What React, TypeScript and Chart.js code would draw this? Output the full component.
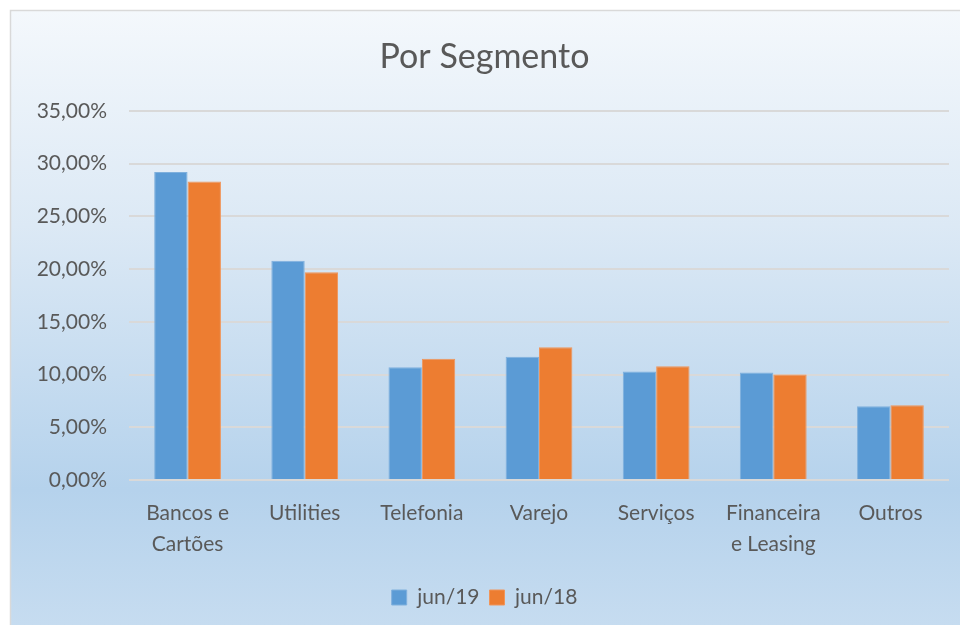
import React, { useEffect, useRef } from "react";
import { Chart, registerables } from "chart.js";

Chart.register(...registerables);

const categories: (string | string[])[] = [
  ["Bancos e", "Cartões"],
  "Utilities",
  "Telefonia",
  "Varejo",
  "Serviços",
  ["Financeira", "e Leasing"],
  "Outros",
];
const jun19 = [29.2, 20.8, 10.7, 11.7, 10.3, 10.2, 7.0];
const jun18 = [28.3, 19.7, 11.5, 12.6, 10.8, 10.0, 7.1];
const seriesLabels = ["jun/19", "jun/18"];
const titleText = "Por Segmento";

const FONT = "Lato, 'Noto Sans', sans-serif";
const TEXT = "#595959";

const bgPlugin = {
  id: "bgFrame",
  beforeDraw(chart: any) {
    const { ctx, width, height } = chart;
    ctx.save();
    const g = ctx.createLinearGradient(0, 10, 0, height);
    g.addColorStop(0, "#f4f8fc");
    g.addColorStop(0.35, "#dce9f5");
    g.addColorStop(0.78, "#b5d2ec");
    g.addColorStop(1, "#c6dcf0");
    ctx.fillStyle = "#ffffff";
    ctx.fillRect(0, 0, width, height);
    ctx.fillStyle = g;
    ctx.fillRect(10, 10, width - 10, height - 10);
    ctx.strokeStyle = "#d9d9d9";
    ctx.lineWidth = 1.5;
    ctx.beginPath();
    ctx.moveTo(10.5, height);
    ctx.lineTo(10.5, 10.5);
    ctx.lineTo(width, 10.5);
    ctx.stroke();
    ctx.restore();
  },
};

export default function App() {
  const ref = useRef<HTMLCanvasElement>(null);
  useEffect(() => {
    if (!ref.current) return;
    const chart = new Chart(ref.current, {
      type: "bar",
      data: {
        labels: categories,
        datasets: [
          {
            label: seriesLabels[0],
            data: jun19,
            backgroundColor: "#5b9bd5",
            borderColor: "#7fb0dd",
            borderWidth: 1,
            categoryPercentage: 0.57,
            barPercentage: 1,
          },
          {
            label: seriesLabels[1],
            data: jun18,
            backgroundColor: "#ed7d31",
            borderColor: "#f0955a",
            borderWidth: 1,
            categoryPercentage: 0.57,
            barPercentage: 1,
          },
        ],
      },
      options: {
        animation: false,
        responsive: false,
        layout: { padding: { left: 20, right: 11, top: 37, bottom: 7 } },
        plugins: {
          title: {
            display: true,
            text: titleText,
            color: TEXT,
            font: { family: FONT, size: 34, weight: "normal" },
            padding: { top: 0, bottom: 33 },
          },
          legend: {
            position: "bottom",
            labels: {
              color: TEXT,
              font: { family: FONT, size: 21 },
              boxWidth: 15,
              boxHeight: 15,
              padding: 10,
            },
          },
          tooltip: { enabled: false },
        },
        scales: {
          x: {
            grid: { display: false, drawTicks: false },
            border: { display: false },
            ticks: { color: TEXT, font: { family: FONT, size: 21, lineHeight: 1.45 }, padding: 18, maxRotation: 0 },
          },
          y: {
            min: 0,
            max: 35,
            grid: { color: "#d9d9d9", lineWidth: 2, drawTicks: false },
            border: { display: false },
            ticks: {
              stepSize: 5,
              color: TEXT,
              font: { family: FONT, size: 21 },
              padding: 22,
              callback: (v: any) => Number(v).toFixed(2).replace(".", ",") + "%",
            },
            afterFit: (s: any) => {
              s.width = 109;
            },
          },
        },
      },
      plugins: [bgPlugin],
    });
    return () => chart.destroy();
  }, []);
  return (
    <div style={{ position: "absolute", left: 0, top: 0, width: 960, height: 625 }}>
      <canvas ref={ref} width={960} height={625} style={{ display: "block" }} />
    </div>
  );
}
